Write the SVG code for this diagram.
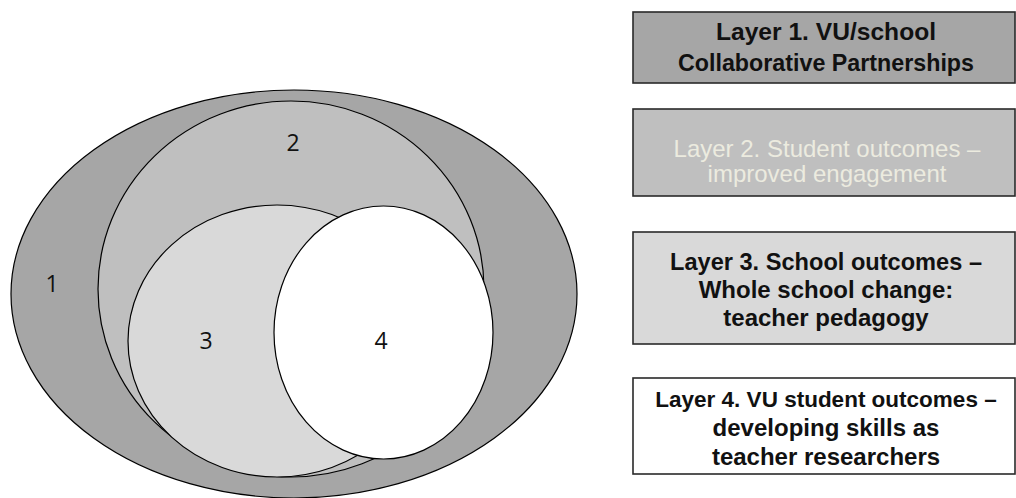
<svg xmlns="http://www.w3.org/2000/svg" width="1016" height="498" viewBox="0 0 1016 498">
<style>
.sh{stroke:#000;stroke-width:1.2}
.num{font-family:"Open Sans","Liberation Sans",sans-serif;font-size:23px;fill:#111;text-anchor:middle}
.box{stroke:#2a2a2a;stroke-width:1.6}
.lbl{font-family:"Liberation Sans",Arial,sans-serif;font-size:24px;font-weight:bold;fill:#111;text-anchor:middle}
.lbl2{font-family:"Liberation Sans",Arial,sans-serif;font-size:24px;fill:#ecebdf;text-anchor:middle}
</style>
<rect width="1016" height="498" fill="#fff"/>
<g id="layer1-shape"><ellipse class="sh" cx="294" cy="294" rx="283" ry="204" fill="#a6a6a6"/></g>
<g id="layer2-shape"><ellipse class="sh" cx="291" cy="289" rx="193" ry="188" fill="#bfbfbf"/></g>
<g id="layer3-shape"><ellipse class="sh" cx="277" cy="341" rx="149" ry="136" fill="#d9d9d9"/></g>
<g id="layer4-shape"><ellipse class="sh" cx="383.5" cy="332.5" rx="109.5" ry="126.5" fill="#fff"/></g>
<g id="numbers">
<text class="num" x="52" y="292">1</text>
<text class="num" x="293" y="151">2</text>
<text class="num" x="206" y="349">3</text>
<text class="num" x="381" y="349">4</text>
</g>
<g id="connectors"></g>
<g id="box1">
<rect class="box" x="633" y="12" width="382" height="71" fill="#a6a6a6"/>
<text class="lbl" x="826" y="40" textLength="220" lengthAdjust="spacingAndGlyphs">Layer 1. VU/school</text>
<text class="lbl" x="826" y="71" textLength="296" lengthAdjust="spacingAndGlyphs">Collaborative Partnerships</text>
</g>
<g id="box2">
<rect class="box" x="633" y="109" width="382" height="87" fill="#bfbfbf"/>
<text class="lbl2" x="827" y="157">Layer 2. Student outcomes –</text>
<text class="lbl2" x="827" y="182">improved engagement</text>
</g>
<g id="box3">
<rect class="box" x="633" y="232" width="382" height="112" fill="#d9d9d9"/>
<text class="lbl" x="826" y="270" textLength="312" lengthAdjust="spacingAndGlyphs">Layer 3. School outcomes –</text>
<text class="lbl" x="826" y="298">Whole school change:</text>
<text class="lbl" x="826" y="326">teacher pedagogy</text>
</g>
<g id="box4">
<rect class="box" x="633" y="378" width="382" height="96" fill="#fff"/>
<text class="lbl" x="826" y="407" style="font-size:22.5px">Layer 4. VU student outcomes –</text>
<text class="lbl" x="826" y="436">developing skills as</text>
<text class="lbl" x="826" y="465">teacher researchers</text>
</g>
</svg>
